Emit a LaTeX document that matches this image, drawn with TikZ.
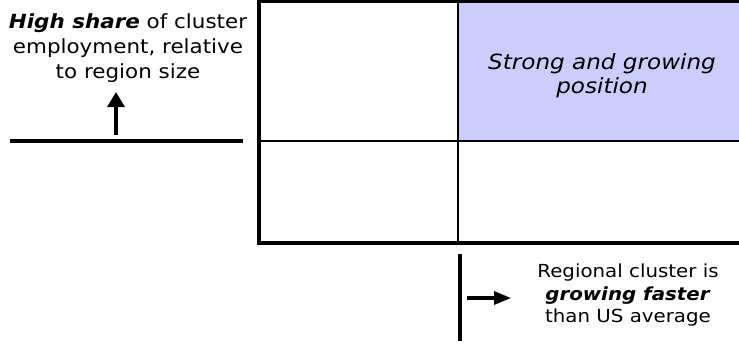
\documentclass[tikz,border=0pt]{standalone}
\usepackage{fontspec}
\setmainfont{DejaVu Sans}[FakeStretch=1.1]
\usetikzlibrary{arrows.meta}
\definecolor{lav}{HTML}{CCCCFF}
\begin{document}
\begin{tikzpicture}[x=1pt,y=-1pt,
  thickline/.style={line width=3.5pt},
  thinline/.style={line width=1.3pt},
  label/.style={align=center,inner sep=0pt},
  arrup/.style={line width=3.2pt,-{Triangle[length=15pt,width=17pt]}},
  arrright/.style={line width=3.2pt,-{Triangle[length=17pt,width=13pt]}}]
\useasboundingbox (0,0) rectangle (739,343);
\begin{scope}
\clip (0,0) rectangle (739,343);
\fill[lav] (458,1.5) rectangle (745,141);
\draw[thinline] (458,1.5) -- (458,243);
\draw[thinline] (258,141) -- (745,141);
\draw[thickline] (745,1.5) -- (259,1.5) -- (259,243) -- (745,243);
\end{scope}
\node[label,font=\fontsize{21}{24}\selectfont] (q) at (602,75.5) {\textit{Strong and growing}\\\textit{position}};
\node[label,font=\fontsize{19.5}{25}\selectfont] (hs) at (128,48) {\textbf{\textit{High share}} of cluster\\employment, relative\\to region size};
\coordinate (ls) at (10,141);
\coordinate (le) at (243,141);
\draw[thickline] (ls) -- (le);
\coordinate (ua) at (116,135);
\coordinate (ub) at (116,92);
\draw[arrup] (ua) -- (ub);
\coordinate (vs) at (460,254);
\coordinate (ve) at (460,341);
\draw[thickline] (vs) -- (ve);
\coordinate (ra) at (467,298);
\coordinate (rb) at (511,298);
\draw[arrright] (ra) -- (rb);
\node[label,font=\fontsize{18}{22.5}\selectfont] (rc) at (628,295.5) {Regional cluster is\\\textbf{\textit{growing faster}}\\than US average};
\end{tikzpicture}
\end{document}
